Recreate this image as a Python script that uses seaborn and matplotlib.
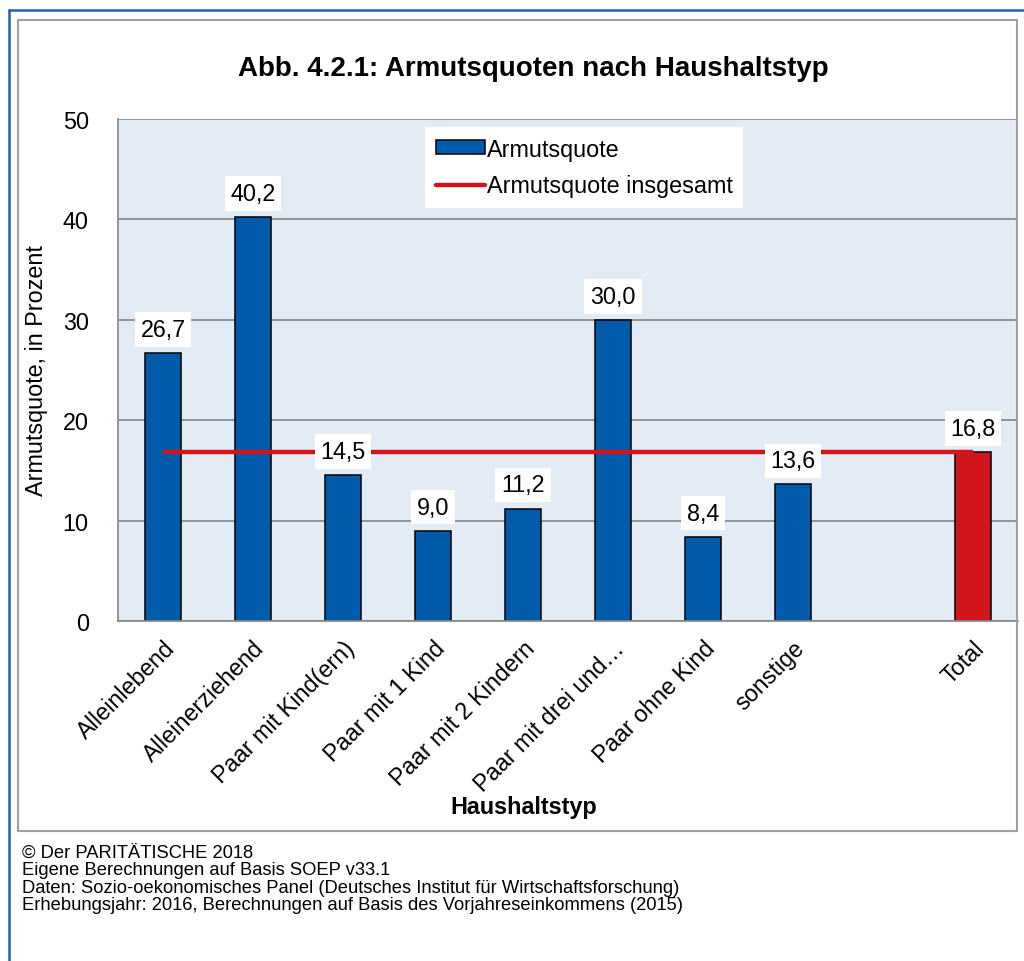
"""Armutsquoten nach Haushaltstyp (Abb. 4.2.1)."""

import matplotlib.pyplot as plt
import numpy as np
import pandas as pd
import seaborn as sns
from matplotlib.lines import Line2D
from matplotlib.patches import Patch, Rectangle

sns.set_theme(style="white")
plt.rcParams["font.family"] = ["Liberation Sans", "DejaVu Sans"]
plt.rcParams.update({
    "text.color": "black",
    "axes.labelcolor": "black",
    "xtick.color": "black",
    "ytick.color": "black",
})

CATEGORIES = [
    "Alleinlebend", "Alleinerziehend", "Paar mit Kind(ern)", "Paar mit 1 Kind",
    "Paar mit 2 Kindern", "Paar mit drei und…", "Paar ohne Kind", "sonstige", " ", "Total",
]
QUOTEN = [26.7, 40.2, 14.5, 9.0, 11.2, 30.0, 8.4, 13.6, np.nan, 16.8]
QUOTE_INSGESAMT = 16.8
Y_TICKS = [0, 10, 20, 30, 40, 50]

TITLE = "Abb. 4.2.1: Armutsquoten nach Haushaltstyp"
FOOTER = [
    "© Der PARITÄTISCHE 2018",
    "Eigene Berechnungen auf Basis SOEP v33.1",
    "Daten: Sozio-oekonomisches Panel (Deutsches Institut für Wirtschaftsforschung)",
    "Erhebungsjahr: 2016, Berechnungen auf Basis des Vorjahreseinkommens (2015)",
]

BLUE = "#005BAA"
RED = "#D0151C"
BG = "#E3EBF4"
GRID = "#8C8C8C"
FS = 16.8

W, H = 1024, 962


def px(x, y):
    """Pixel (top-left origin) to figure fraction."""
    return x / W, 1 - y / H


df = pd.DataFrame({"typ": CATEGORIES, "quote": QUOTEN})
palette = {c: BLUE for c in CATEGORIES}
palette["Total"] = RED

fig = plt.figure(figsize=(W / 100, H / 100), dpi=100)
left, top = px(118, 120)
right, bottom = px(1018, 622)
ax = fig.add_axes([left, bottom, right - left, top - bottom])
ax.set_facecolor(BG)

sns.barplot(
    data=df, x="typ", y="quote", hue="typ", palette=palette, order=CATEGORIES,
    hue_order=CATEGORIES, width=0.4, saturation=1, edgecolor="black", linewidth=1.1,
    legend=False, ax=ax, zorder=2,
)

# overall rate as a line from first to last category
ax.hlines(QUOTE_INSGESAMT, 0, len(CATEGORIES) - 1, color=RED, linewidth=3.2, zorder=3)

for i, v in enumerate(QUOTEN):
    if np.isnan(v):
        continue
    ax.text(
        i, v + 2.35, f"{v:.1f}".replace(".", ","), ha="center", va="center",
        fontsize=FS, zorder=5,
        bbox=dict(boxstyle="square,pad=0.25", facecolor="white", edgecolor="none"),
    )

ax.set_ylim(0, 50)
ax.set_xlim(-0.5, len(CATEGORIES) - 0.5)
ax.set_yticks(Y_TICKS)
ax.yaxis.grid(True, color=GRID, linewidth=1.3)
ax.set_axisbelow(True)
for side in ["top", "right"]:
    ax.spines[side].set_visible(False)
for side in ["left", "bottom"]:
    ax.spines[side].set_color(GRID)
    ax.spines[side].set_linewidth(1.3)

ax.tick_params(axis="y", length=5, width=1.3, color=GRID, pad=16, labelsize=FS)
ax.set_xticks(range(len(CATEGORIES)))
ax.set_xticklabels(CATEGORIES, rotation=45, ha="right", rotation_mode="anchor", fontsize=FS)
ax.tick_params(axis="x", which="major", length=0, pad=11)
ax.set_xticks(np.arange(len(CATEGORIES) + 1) - 0.5, minor=True)
ax.tick_params(axis="x", which="minor", length=5, width=1.3, color=GRID)

ax.set_ylabel("Armutsquote, in Prozent", fontsize=FS)
ax.yaxis.set_label_coords((48 - 118) / 900, 0.5)
ax.set_xlabel("Haushaltstyp", fontsize=FS, fontweight="bold")
ax.xaxis.set_label_coords((524 - 118) / 900, (622 - 796) / 502)

handles = [
    Patch(facecolor=BLUE, edgecolor="black", linewidth=1.1, label="Armutsquote"),
    Line2D([0], [0], color=RED, linewidth=3.2, label="Armutsquote insgesamt"),
]
leg = ax.legend(
    handles=handles, loc="upper left", bbox_to_anchor=px(425, 128),
    bbox_transform=fig.transFigure, fontsize=FS, frameon=True, fancybox=False,
    framealpha=1, edgecolor="none", facecolor="white", handlelength=2.1,
    handleheight=0.55, handletextpad=0.1, borderpad=0.45, labelspacing=0.6,
    borderaxespad=0,
)
leg.set_zorder(6)

fig.text(*px(533, 69), TITLE, ha="center", va="center", fontsize=20, fontweight="bold")
fig.text(*px(22, 845), "\n".join(FOOTER), ha="left", va="top", fontsize=13.2, linespacing=1.02)

# chart frame and outer blue border
fig.add_artist(Rectangle(px(18, 832), (1017 - 18) / W, (832 - 21) / H,
                         transform=fig.transFigure, fill=False, edgecolor="#A0A0A0", linewidth=1.5))
fig.add_artist(Line2D([9 / W, 9 / W], [0, 1 - 11 / H], transform=fig.transFigure,
                      color="#1F5FAF", linewidth=1.8))
fig.add_artist(Line2D([9 / W, 1], [1 - 11 / H, 1 - 11 / H], transform=fig.transFigure,
                      color="#1F5FAF", linewidth=1.8))

fig.savefig("out.png", dpi=100)
